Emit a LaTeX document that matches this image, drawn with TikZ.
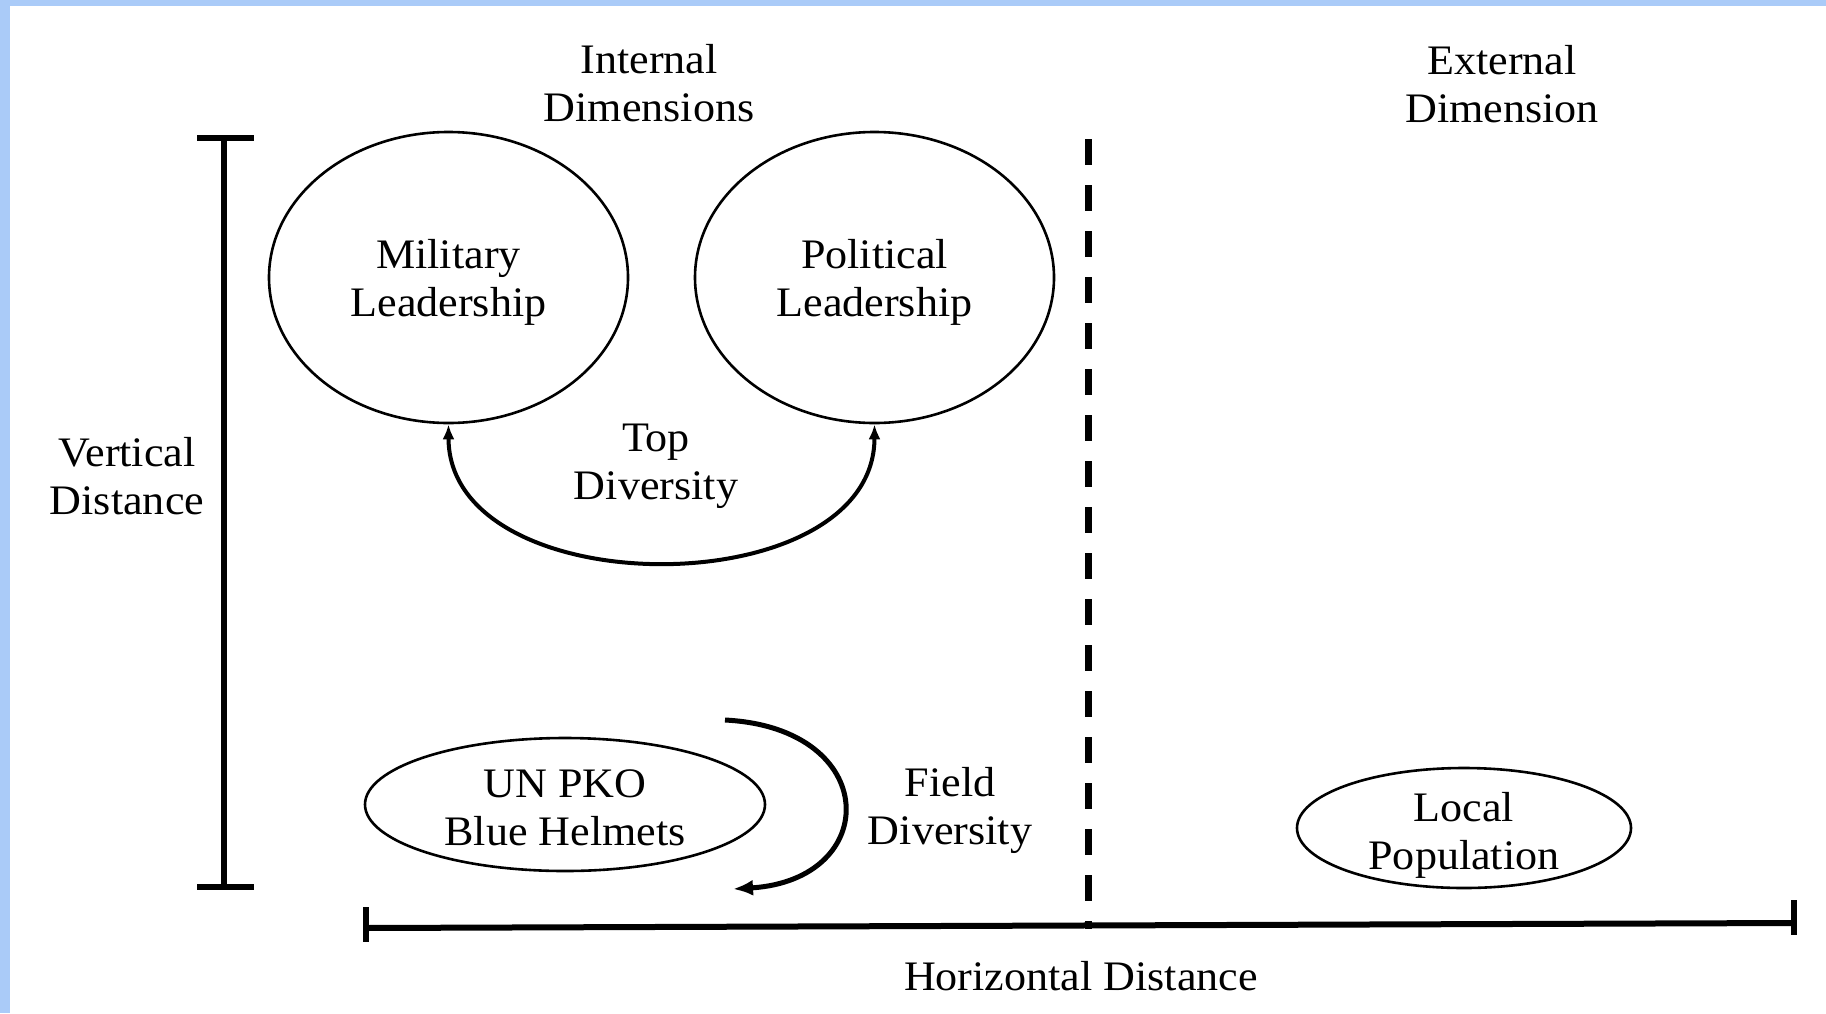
\documentclass[tikz,border=0pt]{standalone}
\usepackage{fontspec}
\setmainfont{Liberation Serif}[FakeStretch=1.05]
\usetikzlibrary{shapes.geometric,arrows.meta}
\definecolor{frameblue}{HTML}{AACBF8}
\begin{document}
\begin{tikzpicture}[x=0.5pt,y=-0.5pt,
  txt/.style={font=\fontsize{21}{24}\selectfont},
  lbl/.style={txt,align=center,inner sep=0pt},
  actor/.style={ellipse,draw,line width=1.3pt,inner sep=0pt},
  scalebar/.style={line width=3pt},
  divider/.style={line width=3.5pt,dash pattern=on 13pt off 10pt},
  topdiv/.style={line width=2pt,{Latex[length=7.5pt,width=6pt]}-{Latex[length=7.5pt,width=6pt]}},
  fielddiv/.style={line width=2.5pt,-{Latex[length=10pt,width=8pt]}},
]
% frame
\fill[frameblue] (0,0) rectangle (1826,1013);
\fill[white] (10,6) rectangle (1826,1013);
\useasboundingbox (0,0) rectangle (1826,1013);

% headings
\node[lbl] (intdim) at (649,83) {Internal\\Dimensions};
\node[lbl] (extdim) at (1502,84) {External\\Dimension};

% actors: outlines and their names
\node[actor,minimum width=179.5pt,minimum height=145.5pt] (mil) at (448.5,277.5) {};
\node[actor,minimum width=179.5pt,minimum height=145.5pt] (pol) at (874.5,277.5) {};
\node[actor,minimum width=200pt,minimum height=66.5pt] (pko) at (565,804.5) {};
\node[actor,minimum width=167pt,minimum height=60pt] (pop) at (1464,828) {};
\node[lbl] (miltxt) at (448.5,282) {Military\\Leadership};
\node[lbl] (poltxt) at (874.5,282) {Political\\Leadership};
\node[lbl] (pkotxt) at (565,808) {UN PKO\\Blue Helmets};
\node[lbl] (poptxt) at (1464,835) {Local\\Population};

% diversity labels
\node[lbl] (toplbl) at (656,466) {Top\\Diversity};
\node[lbl] (fieldlbl) at (950,810) {Field\\Diversity};

% top diversity arc between the two leaderships
\draw[topdiv] (mil.south) .. controls ([yshift=-91pt]mil.south) and ([yshift=-91pt]pol.south) .. (pol.south);

% field diversity arc beside the blue helmets
\coordinate (fdstart) at (725,720);
\coordinate (fdend) at (733,889);
\draw[fielddiv] (fdstart) .. controls (882,728) and (882,880) .. (fdend);

% vertical distance scale
\draw[scalebar] (224,138) -- (224,887);
\draw[scalebar] (197,138) -- (254,138);
\draw[scalebar] (197,887) -- (254,887);
\node[lbl] (vdist) at (127,476) {Vertical\\Distance};

% horizontal distance scale
\draw[scalebar] (365,928) -- (1794,923);
\draw[scalebar] (365.5,907) -- (365.5,942);
\draw[scalebar] (1794,900) -- (1794,935);
\node[lbl] (hdist) at (1081,976) {Horizontal Distance};

% internal / external divider
\draw[divider] (1088,139) -- (1088,929);
\end{tikzpicture}
\end{document}
